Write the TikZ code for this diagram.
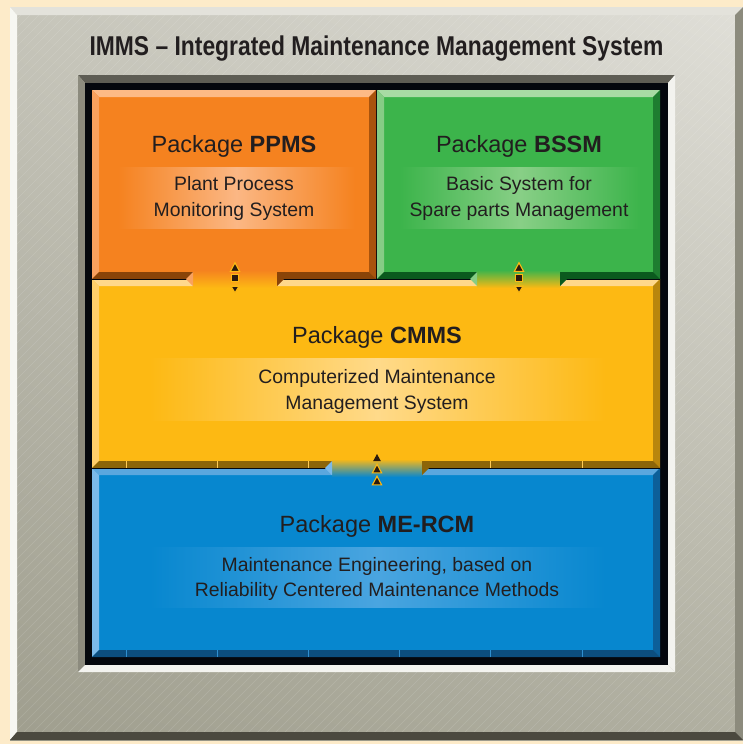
\documentclass[tikz,border=0pt]{standalone}
\usepackage{fontspec}
\setmainfont{Liberation Sans}
\newfontfamily\condfont[FakeStretch=0.84]{Liberation Sans}
\usetikzlibrary{calc, shadings}

% colours
\definecolor{cream}{HTML}{FDEBC9}
\definecolor{textdark}{HTML}{221E1F}
\definecolor{frameUL}{HTML}{C6C5BA}
\definecolor{frameUR}{HTML}{E0DFD8}
\definecolor{frameLL}{HTML}{9F9E8E}
\definecolor{frameLR}{HTML}{B0AFA0}
\definecolor{rimtop}{HTML}{E3E2DB}
\definecolor{rimleft}{HTML}{F7F7F2}
\definecolor{rimright}{HTML}{8C8B7D}
\definecolor{rimbot}{HTML}{4B493F}
\definecolor{wintop}{HTML}{5E5D54}
\definecolor{winleft}{HTML}{8C8B7E}
\definecolor{winlight}{HTML}{F3F3EF}
\definecolor{winblack}{HTML}{04070D}
% orange block
\definecolor{ppface}{HTML}{F5821F}
\definecolor{pptop}{HTML}{FDBA86}
\definecolor{ppleft}{HTML}{F9A15E}
\definecolor{ppright}{HTML}{A9530C}
\definecolor{ppbot}{HTML}{8A4408}
\definecolor{ppband}{HTML}{FBB784}
% green block
\definecolor{bsface}{HTML}{3CB44B}
\definecolor{bstop}{HTML}{A8DBA4}
\definecolor{bsleft}{HTML}{86CC85}
\definecolor{bsright}{HTML}{1E7D30}
\definecolor{bsbot}{HTML}{0B5A1E}
\definecolor{bsband}{HTML}{88CF86}
% yellow block
\definecolor{cmface}{HTML}{FDB913}
\definecolor{cmtop}{HTML}{FFD88C}
\definecolor{cmleft}{HTML}{FFCE6A}
\definecolor{cmright}{HTML}{B9860D}
\definecolor{cmbot}{HTML}{8C6508}
\definecolor{cmband}{HTML}{FFDA8A}
\definecolor{cmtick}{HTML}{FFCB55}
% blue block
\definecolor{meface}{HTML}{0787CF}
\definecolor{metop}{HTML}{5BA7DE}
\definecolor{meleft}{HTML}{7BB9E9}
\definecolor{meright}{HTML}{0C5F99}
\definecolor{mebot}{HTML}{0C4E7F}
\definecolor{meband}{HTML}{4AA5E0}
\definecolor{metick}{HTML}{2F8FD0}
% marks
\definecolor{markfill}{HTML}{2B1A0E}
\definecolor{markrim}{HTML}{FDB913}

\def\bw{7}
% #1 x1, #2 y1, #3 x2, #4 y2, #5 colour prefix
\newcommand{\bevelblock}[5]{%
  \fill[#5face] (#1,#2) rectangle (#3,#4);
  \fill[#5top] (#1,#2) -- (#3,#2) -- (#3-\bw,#2+\bw) -- (#1+\bw,#2+\bw) -- cycle;
  \fill[#5left] (#1,#2) -- (#1+\bw,#2+\bw) -- (#1+\bw,#4-\bw) -- (#1,#4) -- cycle;
  \fill[#5right] (#3,#2) -- (#3,#4) -- (#3-\bw,#4-\bw) -- (#3-\bw,#2+\bw) -- cycle;
  \fill[#5bot] (#1,#4) -- (#3,#4) -- (#3-\bw,#4-\bw) -- (#1+\bw,#4-\bw) -- cycle;
}
% #1 xa, #2 xb, #3 y of joint, #4 upper, #5 lower, #6/#7 end colours
\newcommand{\linkgap}[7]{%
  \shade[top color=#4face, bottom color=#5face] (#1,#3-9) rectangle (#2,#3+9);
  \fill[#6] (#1,#3-7) -- (#1,#3+7) -- (#1-7,#3) -- cycle;
  \fill[#7] (#2,#3-7) -- (#2,#3+7) -- (#2+7,#3) -- cycle;
}

\tikzset{
  titletext/.style={text=textdark, font=\condfont\bfseries\fontsize{27.2}{32}\selectfont, inner sep=0pt, anchor=base},
  headtext/.style={text=textdark, font=\fontsize{23.5}{28}\selectfont, inner sep=0pt, anchor=base},
  desctext/.style={text=textdark, font=\fontsize{19.4}{24}\selectfont, inner sep=0pt, anchor=base},
  markstyle/.style={fill=markfill, draw=markrim, line width=1.1pt, line join=miter},
  upmark/.pic={\filldraw[markstyle] (-4.6,4.3) -- (4.6,4.3) -- (0,-4.3) -- cycle;},
  downmark/.pic={\filldraw[markstyle] (-4,-3.3) -- (4,-3.3) -- (0,3.3) -- cycle;},
  boxmark/.pic={\filldraw[markstyle] (-3.5,-3.5) rectangle (3.5,3.5);},
  smallmark/.pic={\fill[markfill] (-3.8,3.5) -- (3.8,3.5) -- (0,-3.5) -- cycle;},
}

\begin{document}
\begin{tikzpicture}[x=1pt, y=-1pt]
    \useasboundingbox (0,0) rectangle (743,744);
    \fill[cream] (0,0) rectangle (743,744);
    % =========================
    % grey frame
    \shade[upper left=frameUL, upper right=frameUR, lower left=frameLL, lower right=frameLR]
        (10,7) rectangle (743,740);
    \begin{scope}
        \clip (17,15) rectangle (735,732);
        \foreach \k in {-740,-731,...,740}
            \draw[white, opacity=.13, line width=.6] (\k,740) -- (\k+740,0);
    \end{scope}
    \fill[rimtop] (10,7) -- (743,7) -- (735,15) -- (17,15) -- cycle;
    \fill[rimleft] (10,7) -- (17,15) -- (17,732) -- (10,740) -- cycle;
    \fill[rimright] (743,7) -- (743,740) -- (735,732) -- (735,15) -- cycle;
    \fill[rimbot] (10,740) -- (743,740) -- (735,732) -- (17,732) -- cycle;

    \node[titletext] (imms) at (376.5,55) {IMMS – Integrated Maintenance Management System};

    % ===============================
    % sunken window
    \fill[wintop] (78,75) -- (675,75) -- (668,83) -- (85,83) -- cycle;
    \fill[winleft] (78,75) -- (85,83) -- (85,665) -- (78,672) -- cycle;
    \fill[winlight] (675,75) -- (675,672) -- (668,665) -- (668,83) -- cycle;
    \fill[winlight] (78,672) -- (675,672) -- (668,665) -- (85,665) -- cycle;
    \fill[winblack] (85,83) rectangle (668,665);

    % ===============================
    % packages
    \bevelblock{92}{90}{376}{279}{pp}
    \bevelblock{377}{90}{660}{279}{bs}
    \bevelblock{92}{279}{660}{468}{cm}
    \bevelblock{92}{468}{660}{657}{me}
    \draw[winblack, line width=.7] (92,279) -- (660,279);
    \draw[winblack, line width=.7] (92,468) -- (660,468);

    \foreach \k in {0,...,5} {
        \draw[cmtick, line width=.8] (126+91.2*\k,461) -- ++(0,7);
        \draw[metick, line width=.8] (126+91.2*\k,650) -- ++(0,7);
    }

    \shade[left color=ppface, right color=ppface, middle color=ppband] (118,167) rectangle (355,228);
    \shade[left color=bsface, right color=bsface, middle color=bsband] (400,167) rectangle (640,228);
    \shade[left color=cmface, right color=cmface, middle color=cmband] (150,358) rectangle (605,420);
    \shade[left color=meface, right color=meface, middle color=meband] (150,547) rectangle (605,607);

    % ===============================
    % links between packages
    \linkgap{193}{277}{279}{pp}{cm}{ppleft}{ppbot}
    \linkgap{477}{560}{279}{bs}{cm}{bsleft}{bsbot}
    \linkgap{332}{422}{468}{cm}{me}{meleft}{cmbot}

    \pic at (235,267) {upmark};
    \pic at (235,278) {boxmark};
    \pic at (235,289.5) {downmark};
    \pic at (519,267) {upmark};
    \pic at (519,278) {boxmark};
    \pic at (519,289.5) {downmark};
    \pic at (377,457.5) {smallmark};
    \pic at (377,468.5) {upmark};
    \pic at (377,480.5) {upmark};

    % ===============================
    % texts
    \node[headtext] (ppmsHead) at (234,152) {Package \textbf{PPMS}};
    \node[desctext] (ppmsLineA) at (234,190) {Plant Process};
    \node[desctext] (ppmsLineB) at (234,216) {Monitoring System};

    \node[headtext] (bssmHead) at (519,152) {Package \textbf{BSSM}};
    \node[desctext] (bssmLineA) at (519,190) {Basic System for};
    \node[desctext] (bssmLineB) at (519,216) {Spare parts Management};

    \node[headtext] (cmmsHead) at (377,343) {Package \textbf{CMMS}};
    \node[desctext] (cmmsLineA) at (377,383) {Computerized Maintenance};
    \node[desctext] (cmmsLineB) at (377,409) {Management System};

    \node[headtext] (mercmHead) at (377,532) {Package \textbf{ME-RCM}};
    \node[desctext] (mercmLineA) at (377,571) {Maintenance Engineering, based on};
    \node[desctext] (mercmLineB) at (377,596) {Reliability Centered Maintenance Methods};
\end{tikzpicture}
\end{document}
